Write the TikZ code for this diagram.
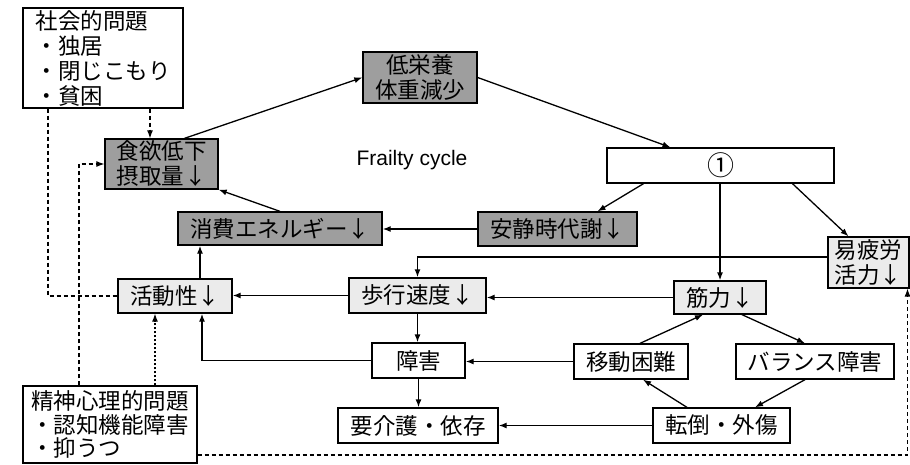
\documentclass[tikz,border=0pt]{standalone}
\usepackage{fontspec}
\setmainfont{Noto Sans CJK JP}
\newfontfamily\latinsf{Liberation Sans}
\usetikzlibrary{arrows.meta}
\begin{document}
\begin{tikzpicture}[x=1pt,y=-1pt,
  box/.style={draw, line width=1.3pt, inner sep=0pt, font=\fontsize{22.5}{25}\selectfont, align=center},
  dark/.style={box, fill=black!38},
  light/.style={box, fill=black!8},
  conn/.style={line width=1.3pt, -{Latex[length=8pt,width=6pt]}},
  dsh/.style={line width=1.1pt, dash pattern=on 4pt off 3pt},
  dsha/.style={dsh, -{Latex[length=8pt,width=6pt]}},
  dota/.style={line width=1.1pt, dash pattern=on 2pt off 2pt, -{Latex[length=8pt,width=6pt]}},
]
\useasboundingbox (0,0) rectangle (910,464);

% nodes
\node[box, minimum width=160pt, minimum height=100pt, align=left] (soc) at (103,58)
  {社会的問題\\・独居\\・閉じこもり\\・貧困};
\node[dark, minimum width=113pt, minimum height=50pt] (shoku) at (161.5,164) {食欲低下\\摂取量↓};
\node[dark, minimum width=114pt, minimum height=51pt] (eiyo) at (420,77.5) {低栄養\\体重減少};
\node[box, minimum width=227pt, minimum height=35pt, font=\fontsize{27}{28}\selectfont] (one) at (720.5,165.5) {①};
\node[dark, minimum width=159pt, minimum height=34pt] (anse) at (557.5,229) {安静時代謝↓};
\node[dark, minimum width=204pt, minimum height=33pt] (shohi) at (280,228.5) {消費エネルギー↓};
\node[light, minimum width=81pt, minimum height=51pt, align=left] (ihiro) at (868.5,262.5) {易疲労\\活力↓};
\node[light, minimum width=92pt, minimum height=33pt] (kin) at (720,297.5) {筋力↓};
\node[light, minimum width=137pt, minimum height=35pt] (hoko) at (417.5,295.5) {歩行速度↓};
\node[light, minimum width=114pt, minimum height=34pt] (katsu) at (175,296) {活動性↓};
\node[box, minimum width=93pt, minimum height=35pt] (shogai) at (418.5,360.5) {障害};
\node[box, minimum width=114pt, minimum height=35pt] (ido) at (631,361.5) {移動困難};
\node[box, minimum width=158pt, minimum height=35pt] (bal) at (815,361.5) {バランス障害};
\node[box, minimum width=160pt, minimum height=35pt] (yokaigo) at (418,425.5) {要介護・依存};
\node[box, minimum width=137pt, minimum height=35pt] (tento) at (721.5,425.5) {転倒・外傷};
\node[box, minimum width=174pt, minimum height=77pt, align=left, font=\fontsize{22.5}{23.5}\selectfont] (seishin) at (110,424.5)
  {精神心理的問題\\・認知機能障害\\・抑うつ};
\node[font=\latinsf\fontsize{21}{24}\selectfont] (title) at (412,160) {Frailty cycle};

% solid connectors
\draw[conn] ([xshift=23pt]shoku.north) -- (eiyo.west);
\draw[conn] (eiyo.east) -- ([xshift=-50pt]one.north);
\draw[conn] ([xshift=-77pt]one.south) -- ([xshift=40pt]anse.north);
\draw[conn] (kin.north |- one.south) -- (kin.north);
\draw[conn] ([xshift=72pt]one.south) -- ([xshift=-20pt]ihiro.north);
\draw[conn, line width=1.7pt] ([yshift=5.5pt]ihiro.west) -| (hoko.north);
\draw[conn] (anse.west) -- (anse.west -| shohi.east);
\draw[conn] (shohi.north) -- (shoku.south east);
\draw[conn] (kin.west) -- (kin.west -| hoko.east);
\draw[conn] (hoko.west) -- (hoko.west -| katsu.east);
\draw[conn] ([xshift=25pt]katsu.north) -- ([xshift=25pt]katsu.north |- shohi.south);
\draw[conn] (hoko.south) -- (hoko.south |- shogai.north);
\draw[conn] (shogai.south) -- (shogai.south |- yokaigo.north);
\draw[conn] (shogai.west) -| ([xshift=27pt]katsu.south);
\draw[conn] (ido.west) -- (ido.west -| shogai.east);
\draw[conn] ([xshift=9pt]ido.north) -- ([xshift=-17pt]kin.south);
\draw[conn] ([xshift=22pt]kin.south) -- ([xshift=-10pt]bal.north);
\draw[conn] ([xshift=-10pt]bal.south) -- ([xshift=33.5pt]tento.north);
\draw[conn] ([xshift=-34.5pt]tento.north) -- ([xshift=12pt]ido.south);
\draw[conn] (tento.west) -- (tento.west -| yokaigo.east);

% dashed connectors
\draw[dsha] ([xshift=47pt]soc.south) -- ([xshift=47pt]soc.south |- shoku.north);
\draw[dsh] ([xshift=-55pt]soc.south) |- (katsu.west);
\draw[dsha] ([xshift=-31pt]seishin.north) |- (shoku.west);
\draw[dota] ([xshift=45pt]seishin.north) -- ([xshift=45pt]seishin.north |- katsu.south);
\draw[dsha] ([yshift=-30.5pt]seishin.east) -| ([xshift=39pt]ihiro.south);
\end{tikzpicture}
\end{document}
